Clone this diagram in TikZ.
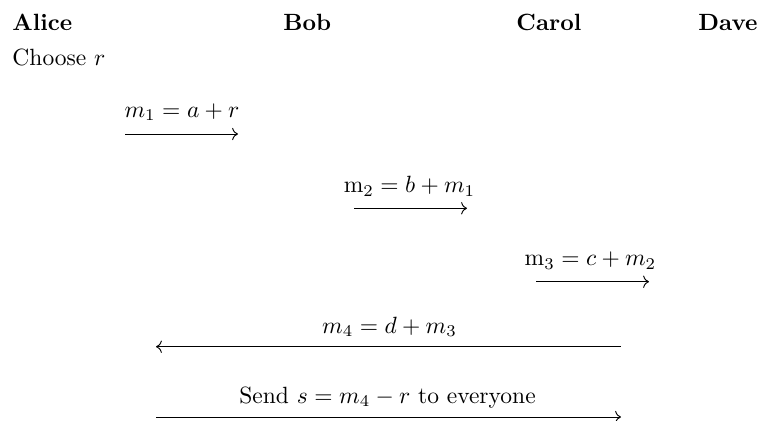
\documentclass[tikz,border=0pt]{standalone}
\usetikzlibrary{arrows.meta}
\tikzset{
  hdr/.style={inner sep=0pt, anchor=base west, font=\bfseries},
  txt/.style={inner sep=0pt, anchor=base west},
  lbl/.style={inner sep=0pt, anchor=base},
  msg/.style={line width=0.4pt, -{Computer Modern Rightarrow}},
  msgback/.style={line width=0.4pt, {Computer Modern Rightarrow}-},
}
\begin{document}
\begin{tikzpicture}[x=0.4255pt,y=-0.4255pt]
\useasboundingbox (0,0) rectangle (760,421);
% headers
\node[hdr] (alice) at (12,30) {Alice};
\node[hdr] (bob) at (283,30) {Bob};
\node[hdr] (carol) at (516,30) {Carol};
\node[hdr] (dave) at (698,30) {Dave};
\node[txt] (choose) at (12,65) {Choose $r$};
% message 1
\node[lbl] (l1) at (182,117) {$m_1 = a + r$};
\coordinate (s1) at (125,134);
\coordinate (e1) at (238,134);
\draw[msg] (s1) -- (e1);
% message 2
\node[lbl] (l2) at (409.5,192.5) {$\mathrm{m}_2 = b + m_1$};
\coordinate (s2) at (354,208.3);
\coordinate (e2) at (467,208.3);
\draw[msg] (s2) -- (e2);
% message 3
\node[lbl] (l3) at (590.5,265.7) {$\mathrm{m}_3 = c + m_2$};
\coordinate (s3) at (536,281.7);
\coordinate (e3) at (649,281.7);
\draw[msg] (s3) -- (e3);
% message 4
\node[lbl] (l4) at (389.5,333) {$m_4 = d + m_3$};
\coordinate (s4) at (156,346.7);
\coordinate (e4) at (621,346.7);
\draw[msgback] (s4) -- (e4);
% broadcast
\node[lbl] (l5) at (387.5,403) {Send $s = m_4 - r$ to everyone};
\coordinate (s5) at (156,417);
\coordinate (e5) at (621,417);
\draw[msg] (s5) -- (e5);
\end{tikzpicture}
\end{document}
